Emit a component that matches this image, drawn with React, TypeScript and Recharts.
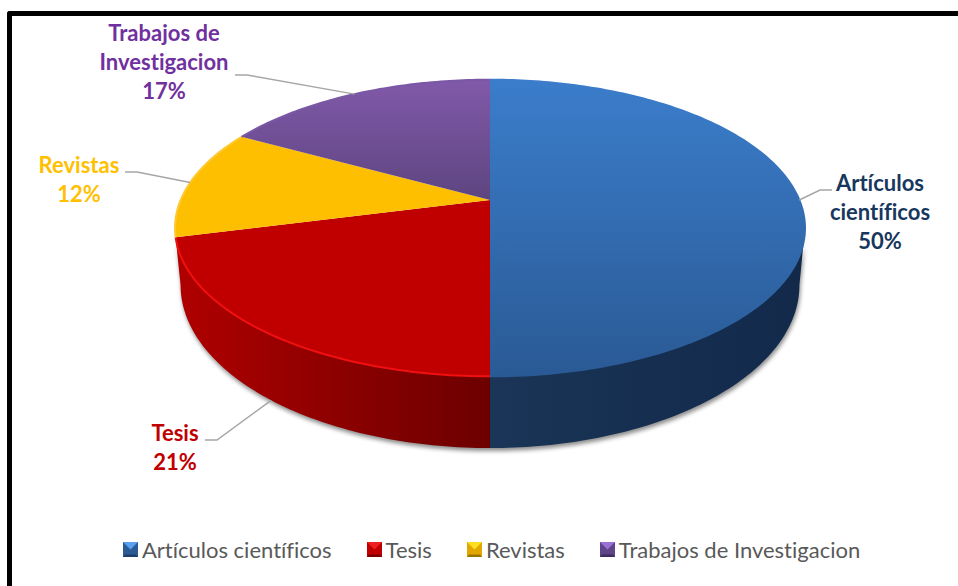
import React from "react";
import { PieChart, Pie, Legend } from "recharts";

const categories = ["Artículos científicos", "Tesis", "Revistas", "Trabajos de Investigacion"];
const shares = [50, 21, 12, 17];
const labelLines = [["Artículos", "científicos"], ["Tesis"], ["Revistas"], ["Trabajos de", "Investigacion"]];

const data = categories.map((name, i) => ({ name, value: shares[i] }));

// style per slice
const topFill = ["url(#topBlue)", "#c00000", "#fdbf00", "url(#topPurple)"];
const wallFill = ["url(#wallBlue)", "url(#wallRed)", "#a87e00", "#4a3566"];
const rimColor = ["url(#topBlue)", "#f01010", "#ffc933", "#7a58a5"];
const labelColor = ["#17375e", "#c00000", "#ffc000", "#7030a0"];
const iconColor = [
  { base: "#2c5a94", light: "#5aa0ee", dark: "#1f3f6a" },
  { base: "#c00000", light: "#f02020", dark: "#7a0000" },
  { base: "#e0a800", light: "#ffe020", dark: "#9a7400" },
  { base: "#5f4588", light: "#9a70d8", dark: "#3f2c60" },
];

// label block: text centre, first baseline, then leader elbow
const labelBox = [
  { x: 880, y: 191, elbow: [820, 190], end: [832, 190] },
  { x: 175, y: 441, elbow: [217, 440], end: [205, 440] },
  { x: 79, y: 173, elbow: [137, 172], end: [125, 172] },
  { x: 164, y: 41, elbow: [247, 75], end: [235, 75] },
];

const CX = 490;
const CY = 200;
const RADIUS = 143;
const X_STRETCH = 2.163;
const TILT = -0.189;
// underside of the disc, relative to the apex and the radius
const BASE_DROP = 85;
const BASE_RX = 2.164;
const BASE_RY = 1.14;
const WALL_FROM = 100.9;
const WALL_TO = 255.6;
const RAD = Math.PI / 180;

// project a clockwise-from-top angle of the flat disc onto the tilted one
const project = (cw: number, cx: number, cy: number, r: number) => {
  const u = Math.sin(cw * RAD);
  const v = -Math.cos(cw * RAD);
  const w = 1 + TILT * v;
  return [cx + (r * X_STRETCH * u) / w, cy + (r * v) / w];
};

// same angle on the lower rim, stretched so the visible wall spans its half ellipse
const projectBase = (cw: number, cx: number, cy: number, r: number) => {
  const a = cw < 180
    ? 180 + ((cw - 180) * 90) / (180 - WALL_FROM)
    : 180 + ((cw - 180) * 90) / (WALL_TO - 180);
  return [cx + r * BASE_RX * Math.sin(a * RAD), cy + BASE_DROP - r * BASE_RY * Math.cos(a * RAD)];
};

const arcPoints = (from: number, to: number, at: (cw: number) => number[]) => {
  const pts: string[] = [];
  const steps = Math.max(2, Math.ceil(Math.abs(to - from)));
  for (let i = 0; i <= steps; i++) {
    const p = at(from + ((to - from) * i) / steps);
    pts.push(`${p[0].toFixed(2)} ${p[1].toFixed(2)}`);
  }
  return pts;
};

const TopSlice = (props: any) => {
  const { cx, cy, outerRadius, startAngle, endAngle, index } = props;
  const arc = arcPoints(90 - startAngle, 90 - endAngle, (a) => project(a, cx, cy, outerRadius));
  return (
    <g>
      <path d={`M${cx} ${cy}L${arc.join("L")}Z`} fill={topFill[index]} />
      <path d={`M${arc.join("L")}`} fill="none" stroke={rimColor[index]} strokeWidth={2} />
    </g>
  );
};

const WallSlice = (props: any) => {
  const { cx, cy, outerRadius, startAngle, endAngle, index } = props;
  const from = Math.max(90 - startAngle, WALL_FROM);
  const to = Math.min(90 - endAngle, WALL_TO);
  if (to <= from) return <g />;
  const upper = arcPoints(from, to, (a) => project(a, cx, cy, outerRadius));
  const lower = arcPoints(to, from, (a) => projectBase(a, cx, cy, outerRadius));
  return <path d={`M${upper.join("L")}L${lower.join("L")}Z`} fill={wallFill[index]} />;
};

const SliceLabel = (props: any) => {
  const { index, midAngle, percent } = props;
  const box = labelBox[index];
  const cw = 90 - midAngle;
  // leader lands on the wall when the slice's middle faces the viewer
  const p = cw > WALL_FROM && cw < WALL_TO ? projectBase(cw, CX, CY, RADIUS) : project(cw, CX, CY, RADIUS);
  const lines = [...labelLines[index], `${Math.round(percent * 100)}%`];
  return (
    <g>
      <polyline
        points={`${box.end.join(",")} ${box.elbow.join(",")} ${p[0]},${p[1]}`}
        fill="none"
        stroke="#a6a6a6"
        strokeWidth={1.5}
      />
      {lines.map((line, i) => (
        <text
          key={line}
          x={box.x}
          y={box.y + i * 29}
          textAnchor="middle"
          fontFamily="Lato"
          fontWeight={700}
          fontSize={22}
          fill={labelColor[index]}
          style={{ fontVariantLigatures: "none" }}
        >
          {line}
        </text>
      ))}
    </g>
  );
};

const LegendIcon = ({ index }: { index: number }) => {
  const c = iconColor[index];
  return (
    <svg width={15} height={15} style={{ display: "block", marginRight: 4 }}>
      <rect width={15} height={15} fill={c.base} />
      <polygon points="0,0 15,0 7.5,7.5" fill={c.light} />
      <polygon points="0,15 15,15 13,12.5 2,12.5" fill={c.dark} />
    </svg>
  );
};

const LegendRow = () => (
  <div
    style={{
      display: "flex",
      alignItems: "center",
      fontFamily: "Lato",
      fontSize: 22,
      color: "#595959",
      fontVariantLigatures: "none",
    }}
  >
    {categories.map((name, i) => (
      <div key={name} style={{ display: "flex", alignItems: "center", marginRight: 35 }}>
        <LegendIcon index={i} />
        <span>{name}</span>
      </div>
    ))}
  </div>
);

export default function App() {
  return (
    <div style={{ position: "absolute", left: 0, top: 0, width: 958, height: 586, overflow: "hidden", background: "#fff" }}>
      <style>{`.walls{filter:drop-shadow(1px 3px 2px rgba(0,0,0,.45))}`}</style>
      <div
        style={{
          position: "absolute",
          left: 7,
          top: 11,
          width: 1000,
          height: 640,
          borderLeft: "5px solid #000",
          borderTop: "5px solid #000",
          borderTopLeftRadius: 3,
        }}
      />
      <PieChart width={958} height={586} margin={{ top: 0, right: 0, bottom: 0, left: 0 }} style={{ position: "absolute", left: 0, top: 0 }}>
        <defs>
          <linearGradient id="topBlue" gradientUnits="userSpaceOnUse" x1={0} y1={80} x2={0} y2={376}>
            <stop offset="0" stopColor="#3b7dcb" />
            <stop offset="1" stopColor="#2a5a95" />
          </linearGradient>
          <linearGradient id="topPurple" gradientUnits="userSpaceOnUse" x1={0} y1={80} x2={0} y2={200}>
            <stop offset="0" stopColor="#8159a9" />
            <stop offset="1" stopColor="#5d4580" />
          </linearGradient>
          <linearGradient id="wallBlue" gradientUnits="userSpaceOnUse" x1={490} y1={0} x2={805} y2={0}>
            <stop offset="0" stopColor="#1a3557" />
            <stop offset="1" stopColor="#12294a" />
          </linearGradient>
          <linearGradient id="wallRed" gradientUnits="userSpaceOnUse" x1={175} y1={0} x2={490} y2={0}>
            <stop offset="0" stopColor="#b00000" />
            <stop offset="1" stopColor="#6c0000" />
          </linearGradient>
        </defs>
        <Pie
          className="walls"
          data={data}
          dataKey="value"
          nameKey="name"
          cx={CX}
          cy={CY}
          outerRadius={RADIUS}
          startAngle={90}
          endAngle={-270}
          stroke="none"
          legendType="none"
          shape={WallSlice}
          isAnimationActive={false}
        />
        <Pie
          data={data}
          dataKey="value"
          nameKey="name"
          cx={CX}
          cy={CY}
          outerRadius={RADIUS}
          startAngle={90}
          endAngle={-270}
          stroke="none"
          shape={TopSlice}
          label={SliceLabel}
          labelLine={false}
          isAnimationActive={false}
        />
        <Legend content={LegendRow} wrapperStyle={{ left: 123, top: 536, width: 820 }} />
      </PieChart>
    </div>
  );
}
